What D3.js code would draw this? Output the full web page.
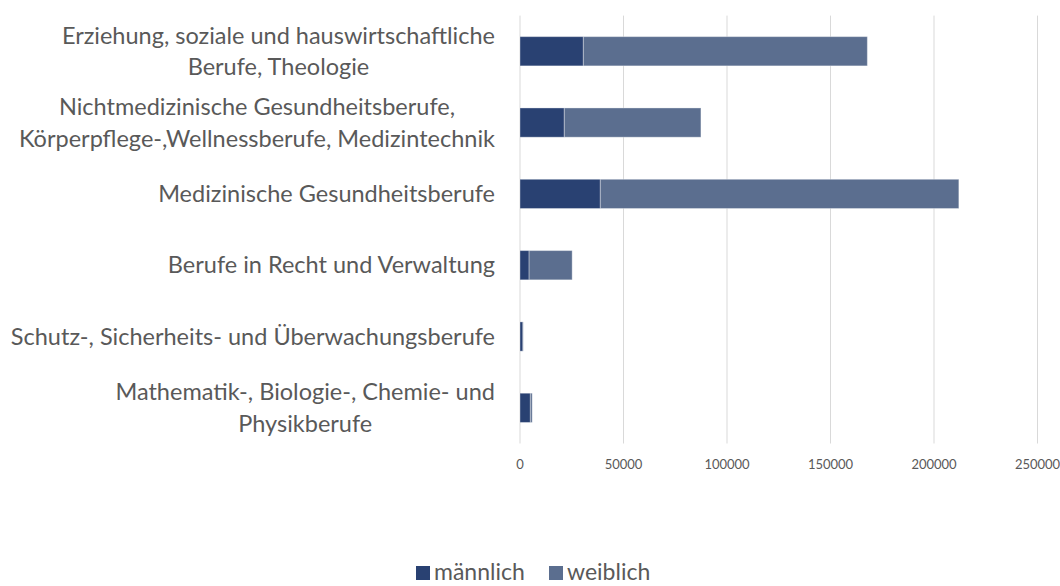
<!DOCTYPE html>
<html>
<head>
<meta charset="utf-8">
<script src="https://cdn.jsdelivr.net/npm/d3@7"></script>
<style>
  body { margin: 0; background: #fff; }
  svg { display: block; }
</style>
</head>
<body>
<div id="chart"></div>
<script>
const categories = [
  ["Erziehung, soziale und hauswirtschaftliche", "Berufe, Theologie"],
  ["Nichtmedizinische Gesundheitsberufe,", "Körperpflege-,Wellnessberufe, Medizintechnik"],
  ["Medizinische Gesundheitsberufe"],
  ["Berufe in Recht und Verwaltung"],
  ["Schutz-, Sicherheits- und Überwachungsberufe"],
  ["Mathematik-, Biologie-, Chemie- und", "Physikberufe"]
];
const maennlich = [30600, 21400, 38800, 4400, 1400, 5000];
const weiblich = [137200, 66000, 173200, 20800, 150, 900];
const seriesNames = ["männlich", "weiblich"];
const xTicks = [0, 50000, 100000, 150000, 200000, 250000];

const w = 1060, h = 586;
const colors = ["#294172", "#5b6e8f"];
const font = "Lato, 'Open Sans', sans-serif";
const textColor = "#595959";

let svg = d3.select("#chart")
  .append("svg")
  .attr("width", w)
  .attr("height", h);

let x = d3.scaleLinear().domain([0, 250000]).range([520, 1037.5]);
let y = d3.scaleBand()
  .domain(d3.range(categories.length))
  .range([15.6, 443.5])
  .paddingInner(0.59)
  .paddingOuter(0.295);

// gridlines
svg.append("g")
  .selectAll("line")
  .data(xTicks)
  .join("line")
  .attr("x1", d => x(d))
  .attr("x2", d => x(d))
  .attr("y1", 15.6)
  .attr("y2", 443.5)
  .attr("stroke", "#d9d9d9")
  .attr("stroke-width", 1);

// tick labels
svg.append("g")
  .selectAll("text")
  .data(xTicks)
  .join("text")
  .attr("x", d => x(d))
  .attr("y", 469)
  .attr("text-anchor", "middle")
  .style("font-family", font)
  .attr("font-size", 13)
  .attr("fill", textColor)
  .text(d => d);

// stacked bars
let rows = categories.map((c, i) => ({ i, m: maennlich[i], f: weiblich[i] }));
let stack = d3.stack().keys(["m", "f"])(rows);

svg.append("g")
  .selectAll("g")
  .data(stack)
  .join("g")
  .attr("fill", (d, k) => colors[k])
  .selectAll("rect")
  .data(d => d)
  .join("rect")
  .attr("x", d => x(d[0]))
  .attr("y", d => y(d.data.i))
  .attr("width", d => Math.max(0, x(d[1]) - x(d[0])))
  .attr("height", y.bandwidth())
  .attr("stroke", "#ffffff")
  .attr("stroke-opacity", 0.35)
  .attr("stroke-width", 1);

// category labels, lines centred on each other, block right-aligned
let labels = svg.append("g");
categories.forEach((lines, i) => {
  let g = labels.append("g");
  let lh = 31.5;
  let cy = y(i) + y.bandwidth() / 2;
  let texts = lines.map((t, j) =>
    g.append("text")
      .attr("y", cy + (j - (lines.length - 1) / 2) * lh)
      .attr("dy", "0.35em")
      .attr("text-anchor", "middle")
      .style("font-family", font)
      .attr("font-size", 23.5)
      .attr("fill", textColor)
      .text(t));
  let maxW = d3.max(texts, t => t.node().getComputedTextLength());
  texts.forEach(t => t.attr("x", 495 - maxW / 2));
});

// legend
let legend = svg.append("g");
let lx = [416, 549];
seriesNames.forEach((name, k) => {
  legend.append("rect")
    .attr("x", lx[k])
    .attr("y", 566)
    .attr("width", 14)
    .attr("height", 14)
    .attr("fill", colors[k]);
  legend.append("text")
    .attr("x", lx[k] + 18)
    .attr("y", 580)
    .style("font-family", font)
    .attr("font-size", 23)
    .attr("fill", textColor)
    .text(name);
});
</script>
</body>
</html>
